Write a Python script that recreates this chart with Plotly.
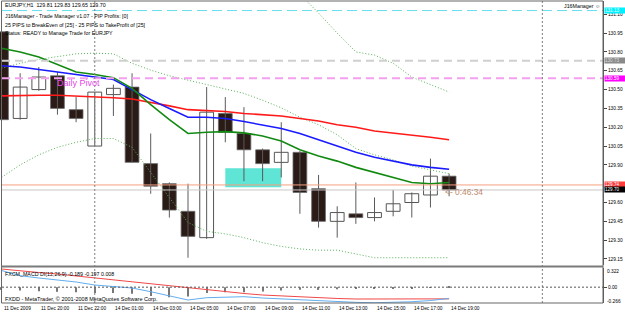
import plotly.graph_objects as go

# ---------------- data ----------------
bars = list(range(25))
opens  = [130.96,130.27,130.50,130.61,130.34,130.05,130.46,130.52,129.91,129.75,129.53,129.32,130.31,
          130.15,130.02,129.92,130.00,129.71,129.45,129.51,129.48,129.53,129.60,129.66,129.81]
highs  = [130.97,130.63,130.68,130.64,130.44,130.48,130.54,130.63,130.15,129.76,129.75,130.52,130.44,
          130.36,130.03,130.24,130.01,129.82,129.57,129.76,129.64,129.70,129.68,129.95,129.83]
lows   = [130.25,130.26,130.49,130.30,130.24,130.05,130.29,129.92,129.67,129.48,129.16,129.31,130.08,
          129.77,129.77,129.80,129.51,129.40,129.32,129.43,129.45,129.49,129.48,129.56,129.65]
closes = [130.26,130.52,130.60,130.35,130.27,130.48,130.51,129.92,129.73,129.54,129.33,130.32,130.16,
          130.02,129.91,130.00,129.68,129.45,129.52,129.48,129.52,129.59,129.67,129.81,129.70]

ma_red   = [130.45,130.455,130.455,130.455,130.45,130.445,130.435,130.425,130.40,130.37,130.34,130.335,130.325,
            130.31,130.30,130.29,130.27,130.25,130.22,130.20,130.17,130.155,130.14,130.12,130.10]
ma_blue  = [130.69,130.68,130.66,130.64,130.62,130.60,130.58,130.50,130.42,130.35,130.28,130.28,130.27,
            130.245,130.22,130.19,130.15,130.10,130.05,130.00,129.96,129.93,129.90,129.88,129.865]
ma_green = [130.83,130.80,130.76,130.70,130.64,130.62,130.595,130.51,130.38,130.26,130.15,130.16,130.165,
            130.155,130.13,130.09,130.02,129.97,129.93,129.88,129.84,129.80,129.76,129.75,129.76]
band_up  = [130.67,130.71,130.74,130.76,130.785,130.79,130.785,130.71,130.655,130.61,130.575,130.545,130.51,
            130.47,130.415,130.355,130.28,130.22,130.14,130.03,129.98,129.94,129.89,129.86,129.83]
band_lo  = [129.80,129.90,129.98,130.04,130.08,130.11,130.11,130.04,129.84,129.64,129.44,129.37,129.35,
            129.32,129.28,129.25,129.23,129.22,129.22,129.19,129.16,129.16,129.16,129.16,129.16]
band_out = [None]*16 + [131.26,131.11,130.95,130.80,130.775,130.71,130.60,130.54,130.48]

macd_main = [0.28,0.193,0.154,0.12,0.087,0.036,0.011,-0.014,-0.076,-0.14,-0.216,-0.177,-0.165,
             -0.16,-0.182,-0.199,-0.216,-0.224,-0.241,-0.255,-0.262,-0.258,-0.245,-0.225,-0.189]
macd_sig  = [0.305,0.272,0.246,0.221,0.188,0.154,0.12,0.087,0.053,0.02,-0.014,-0.048,-0.081,
             -0.106,-0.132,-0.148,-0.165,-0.182,-0.19,-0.199,-0.199,-0.205,-0.205,-0.205,-0.197]
macd_hist = [-0.045,-0.056,-0.067,-0.078,-0.084,-0.10,-0.10,-0.11,-0.15,-0.168,-0.157,-0.10,-0.084,
             -0.084,-0.073,-0.056,-0.045,-0.045,-0.034,-0.028,-0.022,-0.022,-0.022,-0.008,0.008]

# 129.75 is hidden behind the price boxes in the reference
price_ticks = [129.15,129.30,129.45,129.60,129.90,130.05,130.20,130.35,130.50,130.65,130.80,130.95,131.10]
time_labels = {0:"11 Dec 2009",2:"11 Dec 20:00",4:"11 Dec 22:00",6:"14 Dec 01:00",8:"14 Dec 03:00",
               10:"14 Dec 05:00",12:"14 Dec 07:00",14:"14 Dec 09:00",16:"14 Dec 11:00",18:"14 Dec 13:00",
               20:"14 Dec 15:00",22:"14 Dec 17:00",24:"14 Dec 19:00"}
day_separators = [5, 29]
level_lines = {"tp": 131.13, "gray": 130.73, "pivot": 130.59, "ask": 129.74, "bid": 129.70}
zone = {"x0": 12.0, "x1": 15.0, "y0": 129.722, "y1": 129.873}

# ---------------- layout geometry ----------------
W, H = 625, 315
FONT = "Liberation Sans"
def py(px): return 1 - px / H
def pxx(px): return px / W
XR = [-1.5 / 18.65, (603 - 1.5) / 18.65]

fig = go.Figure()

# wicks
wx, wy = [], []
for i in bars:
    wx += [i, i, None]
    wy += [lows[i], highs[i], None]
fig.add_trace(go.Scatter(x=wx, y=wy, mode="lines", line=dict(color="#5a5a5a", width=1),
                         hoverinfo="skip", showlegend=False))

bull = [i for i in bars if closes[i] >= opens[i]]
bear = [i for i in bars if closes[i] < opens[i]]
fig.add_trace(go.Bar(x=bull, y=[closes[i] - opens[i] for i in bull], base=[opens[i] for i in bull],
                     width=0.74, marker=dict(color="#ffffff", line=dict(color="#555555", width=1)),
                     showlegend=False))
fig.add_trace(go.Bar(x=bear, y=[opens[i] - closes[i] for i in bear], base=[closes[i] for i in bear],
                     width=0.74, marker=dict(color="#2b1b17", line=dict(color="#6a6a6a", width=0.8)),
                     showlegend=False))

# moving averages / bands
for ys, col, w, dash in [(band_up, "#58b058", 1, "1px,2px"), (band_lo, "#58b058", 1, "1px,2px"),
                         (band_out, "#58b058", 1, "1px,2px"),
                         (ma_red, "#ff1a1a", 1.6, "solid"), (ma_blue, "#1a1aff", 1.6, "solid"),
                         (ma_green, "#128a12", 1.6, "solid")]:
    fig.add_trace(go.Scatter(x=bars, y=ys, mode="lines", line=dict(color=col, width=w, dash=dash),
                             showlegend=False, hoverinfo="skip", connectgaps=False))

# MACD panel
fig.add_trace(go.Bar(x=bars, y=macd_hist, width=0.06, marker=dict(color="#777777", line=dict(width=0)),
                     xaxis="x2", yaxis="y2", showlegend=False))
fig.add_trace(go.Scatter(x=bars, y=macd_sig, mode="lines", line=dict(color="#f04848", width=1),
                         xaxis="x2", yaxis="y2", showlegend=False))
fig.add_trace(go.Scatter(x=bars, y=macd_main, mode="lines", line=dict(color="#62aef0", width=1),
                         xaxis="x2", yaxis="y2", showlegend=False))

shapes = []
shapes.append(dict(type="rect", xref="x", yref="y", x0=zone["x0"], x1=zone["x1"], y0=zone["y0"], y1=zone["y1"],
                   fillcolor="#5ee5d5", line=dict(width=0), layer="below"))
for key, col, w, dash in [("tp", "#66dfee", 1, "10px,5px"), ("gray", "#cfcfcf", 2, "8px,5px"),
                          ("pivot", "#f4a0f0", 2, "8px,5px"), ("ask", "#f4a080", 1, "solid"),
                          ("bid", "#c8c8c8", 1, "solid")]:
    shapes.append(dict(type="line", xref="paper", yref="y", x0=pxx(2), x1=pxx(603),
                       y0=level_lines[key], y1=level_lines[key], line=dict(color=col, width=w, dash=dash)))
for b in day_separators:
    shapes.append(dict(type="line", xref="x", yref="paper", x0=b, x1=b, y0=py(303), y1=py(1),
                       line=dict(color="#808080", width=1, dash="2px,2px")))
shapes.append(dict(type="line", xref="paper", yref="y2", x0=pxx(2), x1=pxx(603), y0=0, y1=0,
                   line=dict(color="#555555", width=1, dash="2px,2px")))
shapes.append(dict(type="rect", xref="paper", yref="paper", x0=pxx(1.5), x1=pxx(603), y0=py(303), y1=py(1),
                   line=dict(color="#666666", width=1)))
shapes.append(dict(type="line", xref="paper", yref="paper", x0=pxx(1.5), x1=pxx(603), y0=py(266.5), y1=py(266.5),
                   line=dict(color="#7a7a7a", width=2)))

ann = []
def txt(x, y, s, size=5.3, color="#000000", xref="paper", yref="paper", xanchor="left", **kw):
    ann.append(dict(x=x, y=y, xref=xref, yref=yref, text=s, showarrow=False, xanchor=xanchor,
                    yanchor="middle", font=dict(family=FONT, size=size, color=color), **kw))

txt(pxx(3), py(5), "EURJPY,H1  129.81 129.83 129.65 129.70")
txt(pxx(3), py(15.7), "J16Manager - Trade Manager v1.07 - PIP Profits: [0]")
txt(pxx(3), py(25), "25 PIPS to BreakEven of [25] - 25 PIPS to TakeProfit of [25]")
txt(pxx(3), py(33.5), "Status: READY to Manage Trade for EURJPY")
txt(pxx(562), py(6), "J16Manager ☺", size=5.3)
txt(2.85, 130.555, "Daily Pivot", size=9, color="#e448ea", xref="x", yref="y")
txt(23.67, 129.682, "<- 0:46:34", size=8.4, color="#c08a6c", xref="x", yref="y")
txt(pxx(3), py(273.5), "FXCM_MACD DI(12,26,9) -0.189 -0.197 0.008", size=5.3)
txt(pxx(3), py(298.5), "FXDD - MetaTrader, © 2001-2008 MetaQuotes Software Corp.", size=5.5)
txt(pxx(605), py(271), "0.322", size=4.8)
txt(pxx(605), py(301.5), "-0.266", size=4.8)
for b, s in time_labels.items():
    txt(b, py(308.5), s, size=4.8, xref="x2")

for key, bg, fc in [("tp", "#00f0ff", "#e8ffff"), ("gray", "#8a8a8a", "#dddddd"), ("pivot", "#ff00ff", "#ffffff"),
                    ("ask", "#ff3c3c", "#ffffff"), ("bid", "#000000", "#ffffff")]:
    ann.append(dict(x=pxx(604), y=level_lines[key], xref="paper", yref="y", text=f"{level_lines[key]:.2f}",
                    showarrow=False, xanchor="left", yanchor="middle", bgcolor=bg, borderpad=0,
                    width=20, height=5, align="left",
                    font=dict(family=FONT, size=4.6, color=fc)))

fig.update_layout(
    width=W, height=H, margin=dict(l=0, r=0, t=0, b=0),
    paper_bgcolor="#ffffff", plot_bgcolor="#ffffff", barmode="overlay", showlegend=False,
    shapes=shapes, annotations=ann,
    xaxis=dict(domain=[0, pxx(603)], range=XR, anchor="y", showgrid=False, zeroline=False,
               showticklabels=False, ticks="", showline=False),
    xaxis2=dict(domain=[0, pxx(603)], range=XR, anchor="y2", matches="x", showgrid=False, zeroline=False,
                showticklabels=False, ticks="", showline=False),
    yaxis=dict(domain=[py(265), py(1)], range=[129.102, 131.206], side="right", anchor="x",
               tickvals=price_ticks, ticktext=[f"{v:.2f}" for v in price_ticks],
               ticks="outside", ticklen=3, tickcolor="#444444", showgrid=False, zeroline=False,
               showline=True, linecolor="#555555", linewidth=1, automargin=False,
               tickfont=dict(family=FONT, size=4.8, color="#000000")),
    yaxis2=dict(domain=[py(303), py(268)], range=[-0.266, 0.322], side="right", anchor="x2",
                tickvals=[0], ticktext=["0.00"], ticks="outside", ticklen=3, tickcolor="#444444",
                showgrid=False, zeroline=False, showline=True, linecolor="#555555", linewidth=1,
                automargin=False, tickfont=dict(family=FONT, size=4.8, color="#000000")),
)

fig.write_html("out.html")
